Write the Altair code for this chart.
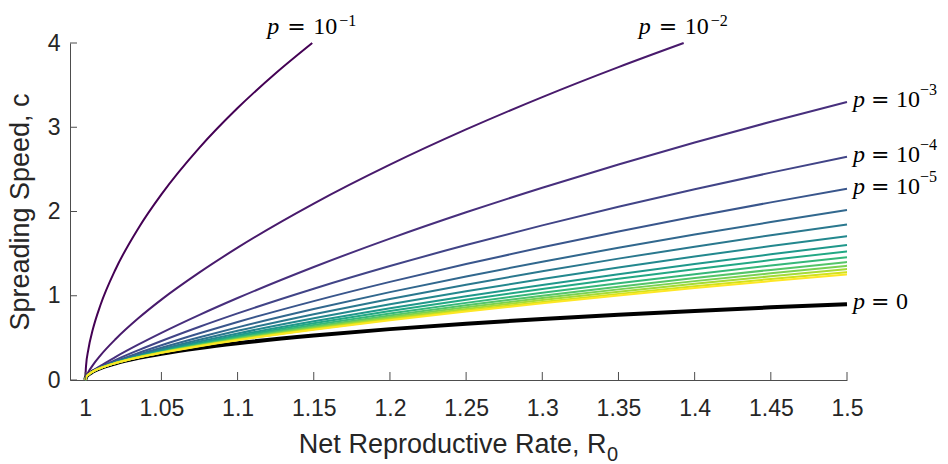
import altair as alt
import pandas as pd

# ---- data ----
R0 = [1.0, 1.0005, 1.002, 1.005, 1.01, 1.02, 1.035, 1.05, 1.075, 1.1,
      1.15, 1.2, 1.25, 1.3, 1.35, 1.4, 1.45, 1.5]

# p = 0 (black, thick)
c_p0 = [0, 0.0316, 0.0632, 0.0999, 0.1411, 0.1990, 0.2623, 0.3124, 0.3803, 0.4366,
        0.5287, 0.6039, 0.6680, 0.7244, 0.7747, 0.8203, 0.8621, 0.9005]

# p = 1e-1 (stops at the top of the axes)
R0_p1 = [1.0, 1.0005, 1.002, 1.005, 1.01, 1.02, 1.035, 1.05, 1.075, 1.1, 1.125, 1.149]
c_p1 = [0, 0.162, 0.357, 0.601, 0.890, 1.318, 1.805, 2.203, 2.758, 3.228, 3.641, 4.0]

# p = 1e-2 (stops at the top of the axes)
R0_p2 = [1.0, 1.0005, 1.002, 1.005, 1.01, 1.02, 1.035, 1.05, 1.075, 1.1, 1.15, 1.2,
         1.25, 1.3, 1.35, 1.3928]
c_p2 = [0, 0.037, 0.092, 0.177, 0.293, 0.487, 0.735, 0.954, 1.277, 1.571, 2.094, 2.556,
        2.974, 3.358, 3.714, 4.0]

c_p3 = [0, 0.0317, 0.0648, 0.1083, 0.1678, 0.2746, 0.4216, 0.5591, 0.7730, 0.9728, 1.3412, 1.6781, 1.9903, 2.2826, 2.5578, 2.8182, 3.0654, 3.30]
c_p4 = [0, 0.0316, 0.0639, 0.1036, 0.1538, 0.2390, 0.3545, 0.4627, 0.6319, 0.7904, 1.0836, 1.3523, 1.6017, 1.8352, 2.0553, 2.2635, 2.4612, 2.65]
c_p5 = [0, 0.0316, 0.0636, 0.1019, 0.1482, 0.2229, 0.3210, 0.4120, 0.5544, 0.6883, 0.9365, 1.1646, 1.3765, 1.5752, 1.7626, 1.9399, 2.1084, 2.269]
c_p6 = [0, 0.0316, 0.0634, 0.1012, 0.1456, 0.2146, 0.3023, 0.3824, 0.5072, 0.6244, 0.8422, 1.0428, 1.2294, 1.4045, 1.5698, 1.7263, 1.8751, 2.017]
c_p7 = [0, 0.0316, 0.0634, 0.1008, 0.1443, 0.2102, 0.2916, 0.3649, 0.4779, 0.5839, 0.7808, 0.9624, 1.1316, 1.2905, 1.4406, 1.5828, 1.7180, 1.847]
c_p8 = [0, 0.0316, 0.0633, 0.1005, 0.1434, 0.2072, 0.2842, 0.3522, 0.4561, 0.5529, 0.7326, 0.8984, 1.0530, 1.1983, 1.3356, 1.4658, 1.5897, 1.708]
c_p9 = [0, 0.0316, 0.0633, 0.1004, 0.1428, 0.2052, 0.2792, 0.3436, 0.4408, 0.5308, 0.6971, 0.8505, 0.9936, 1.1283, 1.2556, 1.3763, 1.4913, 1.601]
c_p10 = [0, 0.0316, 0.0633, 0.1003, 0.1425, 0.2041, 0.2762, 0.3383, 0.4311, 0.5164, 0.6736, 0.8184, 0.9534, 1.0805, 1.2006, 1.3147, 1.4233, 1.527]
c_p11 = [0, 0.0316, 0.0632, 0.1002, 0.1422, 0.2031, 0.2736, 0.3336, 0.4224, 0.5035, 0.6520, 0.7884, 0.9155, 1.0352, 1.1484, 1.2558, 1.3582, 1.456]
c_p12 = [0, 0.0316, 0.0632, 0.1002, 0.1420, 0.2024, 0.2718, 0.3303, 0.4161, 0.4939, 0.6356, 0.7654, 0.8862, 1.0000, 1.1075, 1.2097, 1.3070, 1.400]
c_p13 = [0, 0.0316, 0.0632, 0.1002, 0.1419, 0.2019, 0.2705, 0.3279, 0.4115, 0.4868, 0.6233, 0.7478, 0.8637, 0.9727, 1.0757, 1.1736, 1.2669, 1.356]
c_p14 = [0, 0.0316, 0.0632, 0.1002, 0.1418, 0.2016, 0.2694, 0.3259, 0.4076, 0.4808, 0.6128, 0.7327, 0.8440, 0.9488, 1.0478, 1.1418, 1.2314, 1.317]
c_p15 = [0, 0.0316, 0.0632, 0.1002, 0.1417, 0.2012, 0.2685, 0.3242, 0.4043, 0.4756, 0.6034, 0.7191, 0.8263, 0.9270, 1.0222, 1.1125, 1.1987, 1.281]
c_p16 = [0, 0.0316, 0.0632, 0.1002, 0.1416, 0.2010, 0.2678, 0.3230, 0.4019, 0.4718, 0.5966, 0.7091, 0.8132, 0.9109, 1.0031, 1.0907, 1.1742, 1.254]

x_ticks = [1, 1.05, 1.1, 1.15, 1.2, 1.25, 1.3, 1.35, 1.4, 1.45, 1.5]
y_ticks = [0, 1, 2, 3, 4]

VIRIDIS16 = ["#440154", "#481A6C", "#472F7D", "#414487", "#39568C", "#31688E",
             "#2A788E", "#23888E", "#1F988B", "#22A884", "#35B779", "#54C568",
             "#7AD151", "#A5DB36", "#D2E21B", "#FDE725"]

# ---- build tables ----
series = [(R0_p1, c_p1), (R0_p2, c_p2)] + [(R0, c) for c in
          [c_p3, c_p4, c_p5, c_p6, c_p7, c_p8, c_p9, c_p10, c_p11, c_p12,
           c_p13, c_p14, c_p15, c_p16]]
rows = []
for k, (xs, cs) in enumerate(series, start=1):
    for x, c in zip(xs, cs):
        rows.append({"R0": x, "c": c, "k": k})
df = pd.DataFrame(rows)
black_df = pd.DataFrame({"R0": R0, "c": c_p0})

top_lab = pd.DataFrame({"R0": [R0_p1[-1], R0_p2[-1]], "c": [c_p1[-1], c_p2[-1]],
                        "num": ["10", "10"], "sup": ["\u22121", "\u22122"]})
right_lab = pd.DataFrame({"R0": [R0[-1]] * 4, "c": [c_p3[-1], c_p4[-1], c_p5[-1], c_p0[-1]],
                          "num": ["10", "10", "10", "0"],
                          "sup": ["\u22123", "\u22124", "\u22125", ""]})
xtick_df = pd.DataFrame({"R0": x_ticks})
ytick_df = pd.DataFrame({"c": y_ticks})

W, H = 777, 337
AX = "#4d4d4d"
TXT = "#262626"
SANS = "Liberation Sans"
TITLE_X_END = 536          # right end of "R" in the x-axis title (plot px)
xs_ = alt.Scale(domain=[0.99, 1.5], nice=False, zero=False)
ys_ = alt.Scale(domain=[0, 4], nice=False, zero=False)
common_ax = dict(ticks=False, grid=False, labelFont=SANS, labelFontSize=23, labelColor=TXT,
                 titleFont=SANS, titleFontSize=27, titleFontWeight="normal", titleColor=TXT,
                 domainColor=AX, domainWidth=1)
X_AX = alt.Axis(values=x_ticks, format="~g", title="Net Reproductive Rate, R",
                labelPadding=17, titleX=TITLE_X_END, titleAlign="right", titleY=72,
                titleBaseline="alphabetic", labelFlush=False, **common_ax)
Y_AX = alt.Axis(values=y_ticks, title="Spreading Speed, c",
                labelPadding=10, titlePadding=13, **common_ax)
XE = alt.X("R0:Q", scale=xs_, axis=X_AX)
YE = alt.Y("c:Q", scale=ys_, axis=Y_AX)

black = alt.Chart(black_df).mark_line(color="black", strokeWidth=4, interpolate="monotone").encode(
    x=XE, y=YE)

colored = alt.Chart(df).mark_line(strokeWidth=2, interpolate="monotone").encode(
    x=XE, y=YE,
    color=alt.Color("k:O", scale=alt.Scale(domain=list(range(1, 17)), range=VIRIDIS16), legend=None),
    detail="k:N",
)

xt = alt.Chart(xtick_df).mark_rule(color=AX, strokeWidth=1).encode(
    x=XE, y=alt.value(H), y2=alt.value(H - 8))
yt = alt.Chart(ytick_df).mark_rule(color=AX, strokeWidth=1).encode(
    y=YE, x=alt.value(0), x2=alt.value(7))

# subscript "0" of R0 in the x-axis title
sub0 = alt.Chart(xtick_df.head(1)).mark_text(
    align="left", baseline="alphabetic", font=SANS, fontSize=20, color=TXT).encode(
    x=alt.value(TITLE_X_END + 1), y=alt.value(H + 81), text=alt.value("0"))


def piece(data, text, dx, dy, font, size, style="normal"):
    t = alt.value(text) if not text.startswith("@") else alt.Text(text[1:] + ":N")
    return alt.Chart(data).mark_text(align="left", baseline="alphabetic", dx=dx, dy=dy, font=font,
                                     fontSize=size, fontStyle=style, color="black").encode(
        x=XE, y=YE, text=t)


SER = "Liberation Serif"
labels = [
    piece(top_lab, "p", -45, -9, SER, 24, "italic"),
    piece(top_lab, "=", -25, -9, "DejaVu Serif", 22),
    piece(top_lab, "@num", 1, -9, SER, 24),
    piece(top_lab, "@sup", 27, -17, SER, 16),
    piece(right_lab, "p", 6, 5, SER, 24, "italic"),
    piece(right_lab, "=", 24, 5, "DejaVu Serif", 22),
    piece(right_lab, "@num", 49, 5, SER, 24),
    piece(right_lab, "@sup", 73, -7, SER, 16),
]

chart = alt.layer(black, colored, xt, yt, sub0, *labels).properties(
    width=W, height=H,
    background="white",
    autosize=alt.AutoSizeParams(type="none"),
    padding={"left": 70, "top": 43, "right": 101, "bottom": 84},
).configure_view(strokeWidth=0, stroke="transparent")

chart.save("out.html", embed_options={"renderer": "svg", "actions": False})
